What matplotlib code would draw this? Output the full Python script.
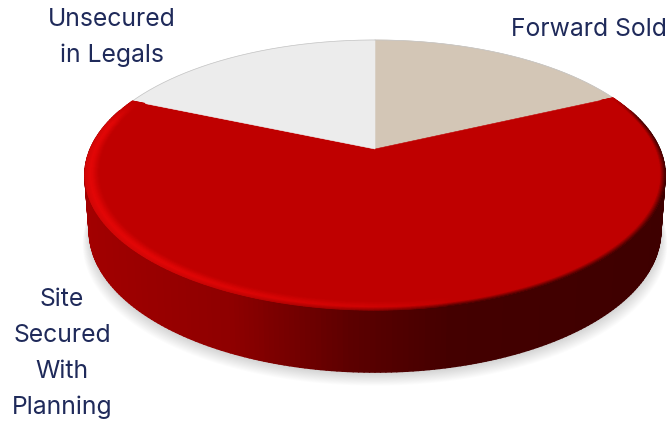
import numpy as np
import matplotlib
matplotlib.use("Agg")
from matplotlib import pyplot as plt
from matplotlib.collections import PolyCollection
from matplotlib.patches import Polygon

categories = ["Forward Sold", "Site Secured With Planning", "Unsecured in Legals"]
shares = [18, 63.5, 18.5]
slice_colors = ["#d3c6b6", "#bf0000", "#ececec"]

label_lines = [
    ("Forward Sold", 589, 29.5),
    ("Unsecured", 112, 19.5),
    ("in Legals", 112, 55.5),
    ("Site", 62, 299.5),
    ("Secured", 62, 335.5),
    ("With", 62, 371.5),
    ("Planning", 62, 407.5),
]

W, H = 669, 422
CX, CY = 375.0, 149.0
A, B, P = 284.6, 130.0, 0.1925
RED = np.array([0xbf, 0, 0]) / 255


def project(theta, r=1.0):
    # theta is clockwise from twelve o'clock, tilted disc seen in perspective
    x = r * np.sin(theta)
    y = r * np.cos(theta)
    w = 1 + P * y
    return CX + A * x / w, CY - B * y / w


def lower_ring(theta):
    # bottom edge of the disc, slightly narrower and further down in front
    sx, sy = project(theta)
    drop = 54 + 8 * np.clip(-np.cos(theta), 0, 1)
    return CX + (sx - CX) * 0.985, sy + drop


def side_color(x):
    red = np.interp(x, [85, 230, 350, 450, 670], [0xa2, 0x8e, 0x5c, 0x44, 0x3e])
    return np.array([red / 255, 0, 0])


def rim_color(x, t):
    # t runs from the outer edge (0) to the flat top (1)
    shine = np.clip((450 - x) / 300, 0, 1) ** 0.6
    peak = RED + shine * (np.array([0xe2, 0x06, 0x06]) / 255 - RED)
    outer = side_color(x) * (1 - shine) + peak * shine * 0.92
    if t < 0.35:
        s = t / 0.35
        return outer + (peak - outer) * s
    s = (t - 0.35) / 0.65
    return peak + (RED - peak) * s * s * (3 - 2 * s)


fig = plt.figure(figsize=(W / 100, H / 100), dpi=100)
ax = fig.add_axes([0, 0, 1, 1])
ax.set_xlim(0, W)
ax.set_ylim(H, 0)
ax.axis("off")

angles = np.linspace(0, 2 * np.pi, 721)

# soft shadow under the disc
lx, ly = lower_ring(angles)
for k in range(14):
    grow = 1 + (13 - k) * 0.0018
    shift = 2 + (13 - k) * 0.9
    sx = CX + (lx - CX) * grow
    sy = ly + shift
    ax.add_patch(Polygon(np.c_[sx, sy], closed=True, fc="#000000", ec="none", alpha=0.013, zorder=1))

# outer wall, one quad per small angle step
wall = np.linspace(np.pi * 0.4, np.pi * 1.6, 241)
tx, ty = project(wall)
bx, by = lower_ring(wall)
quads = []
cols = []
for i in range(len(wall) - 1):
    quads.append([(tx[i], ty[i]), (tx[i + 1], ty[i + 1]), (bx[i + 1], by[i + 1]), (bx[i], by[i])])
    cols.append(side_color((tx[i] + tx[i + 1]) / 2))
ax.add_collection(PolyCollection(quads, facecolors=cols, edgecolors=cols, linewidths=1.2, zorder=2))

# flat slices, clockwise from the top
edges = np.cumsum([0] + shares) / sum(shares) * 2 * np.pi
for i, name in enumerate(categories):
    th = np.linspace(edges[i], edges[i + 1], 200)
    sx, sy = project(th)
    pts = np.r_[[(CX, CY)], np.c_[sx, sy]]
    ax.add_patch(Polygon(pts, closed=True, fc=slice_colors[i], ec=slice_colors[i], lw=0.4, zorder=3))
    if i != 1:
        ax.plot(sx, sy, color="#c4c4c4", lw=0.5, zorder=4)

# rounded rim on the red slice
th = np.linspace(edges[1], edges[2], 300)
radii = np.linspace(1.0, 0.945, 17)
quads = []
cols = []
for j in range(len(radii) - 1):
    x0, y0 = project(th, radii[j])
    x1, y1 = project(th, radii[j + 1])
    t = (j + 0.5) / (len(radii) - 1)
    fade = np.clip(np.minimum(th - edges[1], edges[2] - th) / 0.2, 0, 1)
    for i in range(len(th) - 1):
        quads.append([(x0[i], y0[i]), (x0[i + 1], y0[i + 1]), (x1[i + 1], y1[i + 1]), (x1[i], y1[i])])
        c = rim_color((x0[i] + x0[i + 1]) / 2, t)
        cols.append(RED + (c - RED) * fade[i])
ax.add_collection(PolyCollection(quads, facecolors=cols, edgecolors=cols, linewidths=0.8, zorder=5))

for text, x, y in label_lines:
    ax.text(x, y, text, ha="center", va="center", fontsize=17.8, family="Inter", color="#1f2a5a", zorder=6)

fig.savefig("out.png", dpi=100)
